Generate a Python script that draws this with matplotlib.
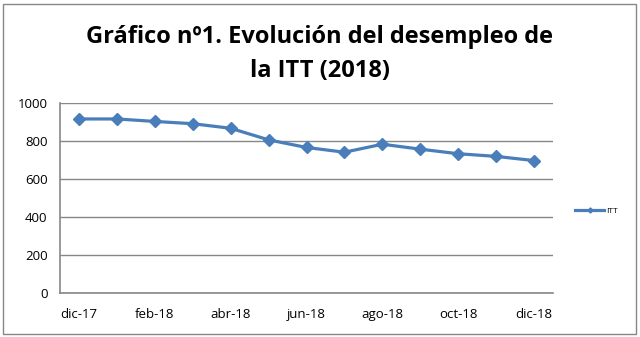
import matplotlib.pyplot as plt
from matplotlib.patches import Rectangle

# datos mensuales (dic-17 a dic-18)
meses = ['dic-17', 'ene-18', 'feb-18', 'mar-18', 'abr-18', 'may-18', 'jun-18',
         'jul-18', 'ago-18', 'sep-18', 'oct-18', 'nov-18', 'dic-18']
parados = [916, 916, 903, 891, 867, 806, 766, 741, 783, 757, 733, 719, 697]
yticks = [0, 200, 400, 600, 800, 1000]

plt.rcParams['font.family'] = ['Open Sans', 'DejaVu Sans']

fig = plt.figure(figsize=(6.4, 3.37), dpi=100)
ax = fig.add_axes([60 / 640, 1 - 293 / 337, 493 / 640, 190 / 337])

x = list(range(len(meses)))
ax.plot(x, parados, color='#4a7ebb', lw=2.3, marker='D', ms=6.5,
        markeredgecolor='#4a7ebb', label='ITT')

ax.set_ylim(0, 1000)
ax.set_xlim(-0.5, len(meses) - 0.5)
ax.set_yticks(yticks)
ax.set_xticks(x[::2])
ax.set_xticklabels(meses[::2])
ax.tick_params(length=0, labelsize=9.5, pad=11)
ax.tick_params(axis='y', pad=9)
ax.grid(axis='y', color='#878787', lw=1)
ax.set_axisbelow(True)
for s in ['top', 'right']:
    ax.spines[s].set_visible(False)
for s in ['left', 'bottom']:
    ax.spines[s].set_color('#878787')
    ax.spines[s].set_linewidth(1.2)

fig.text(0.5, 1 - 37 / 337, 'Gráfico nº1. Evolución del desempleo de',
         ha='center', va='center', fontsize=17, fontweight='bold')
fig.text(0.5, 1 - 71 / 337, 'la ITT (2018)',
         ha='center', va='center', fontsize=17, fontweight='bold')

ax.legend(loc='center left', bbox_to_anchor=(1.03, 0.43), frameon=False,
          fontsize=6, handlelength=3.5, handletextpad=0.2, markerscale=0.4)

fig.patches.append(Rectangle((3 / 640, 3 / 337), 633 / 640, 330 / 337,
                             transform=fig.transFigure, fill=False,
                             edgecolor='#878787', lw=1))

fig.savefig('out.png', dpi=100)
